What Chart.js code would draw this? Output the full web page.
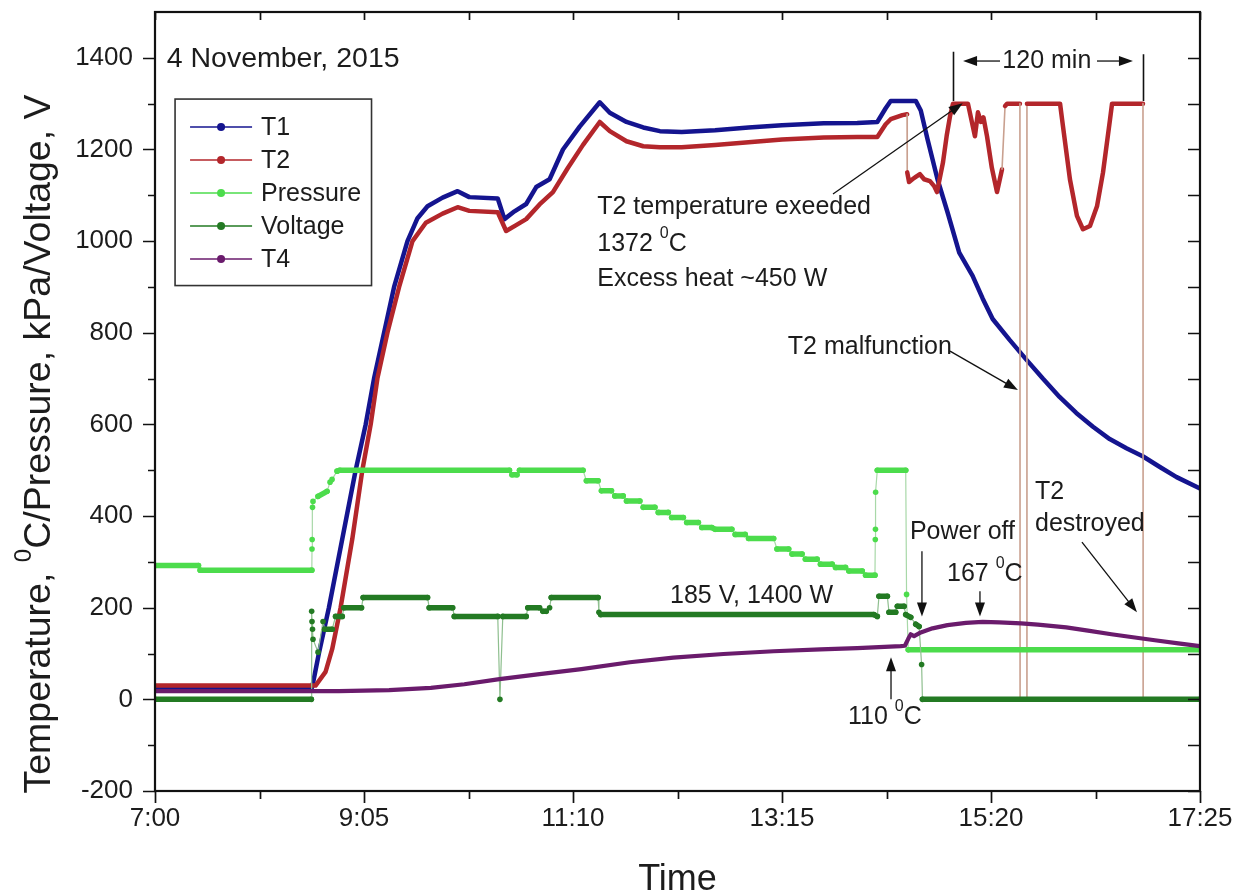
<!DOCTYPE html>
<html>
<head>
<meta charset="utf-8">
<script src="https://cdn.jsdelivr.net/npm/chart.js@4.4.1/dist/chart.umd.min.js"></script>
<style>html,body{margin:0;padding:0;background:#fff;}canvas{display:block;}</style>
</head>
<body>
<canvas id="c" width="1250" height="896"></canvas>
<script>
// ---- axis ticks (minutes after 7:00) ----
const tickMinutes = [0, 125, 250, 375, 500, 625];
const tickLabels = ["7:00", "9:05", "11:10", "13:15", "15:20", "17:25"];
const yTickValues = [-200, 0, 200, 400, 600, 800, 1000, 1200, 1400];

// ---- series (time in minutes after 7:00) ----
const seriesNames = ["T1", "T2", "Pressure", "Voltage", "T4"];

const t1Time = [0, 94, 98, 104, 112, 120, 126, 131, 137, 143, 151, 157, 163, 172, 181, 188, 205, 209, 215, 222, 228, 236, 244, 254, 266, 272, 282, 292, 302, 315, 335, 355, 375, 400, 420, 432, 437, 440, 455, 458, 462, 468, 474, 481, 489, 495, 501, 511, 521, 531, 541, 551, 561, 571, 581, 591, 601, 611, 625];
const t1Vals = [26, 26, 100, 200, 350, 500, 600, 700, 800, 900, 1000, 1050, 1076, 1095, 1109, 1096, 1093, 1048, 1065, 1081, 1118, 1135, 1200, 1250, 1303, 1280, 1260, 1248, 1240, 1238, 1242, 1248, 1253, 1257, 1258, 1260, 1290, 1306, 1306, 1285, 1223, 1135, 1063, 975, 924, 875, 830, 785, 742, 700, 660, 625, 595, 568, 548, 530, 507, 485, 460];

const t2Time = [0, 96, 102, 106, 111, 118, 124, 129, 133, 139, 146, 154, 162, 172, 181, 188, 205, 210, 216, 222, 230, 238, 247, 256, 266, 272, 282, 292, 302, 315, 335, 355, 375, 400, 420, 432, 437, 440, 447, 449.8, 449.9, 451, 453, 455, 457.5, 460, 463.5, 466, 467.7, 471.3, 473.5, 475.5, 477.3, 486.2, 490.4, 492.2, 494, 495.5, 497.6, 500.5, 503.6, 506.6, 508.4, 509.6, 517.3, 517.4, 521.4, 521.5, 541.3, 542.5, 547.2, 551.4, 555, 559.2, 563.4, 567, 571.2, 572.4, 590.9, 591, 625];
const t2Vals = [30, 30, 60, 110, 200, 350, 500, 600, 700, 800, 900, 1000, 1040, 1060, 1074, 1066, 1063, 1022, 1035, 1048, 1080, 1107, 1160, 1210, 1260, 1240, 1218, 1207, 1205, 1205, 1210, 1216, 1222, 1226, 1227, 1227, 1255, 1266, 1275, 1277, 1150, 1129, 1135, 1140, 1146, 1135, 1131, 1120, 1107, 1172, 1230, 1273, 1300, 1300, 1229, 1281, 1260, 1270, 1229, 1160, 1107, 1157, 1295, 1300, 1300, 0, 0, 1300, 1300, 1266, 1135, 1055, 1026, 1033, 1076, 1150, 1266, 1300, 1300, 0, 0];

const pTime = [0, 26, 27, 93.8, 93.9, 94.0, 94.2, 94.5, 97.5, 102.9, 104.7, 105.9, 108.9, 110.6, 212, 213.5, 216.5, 218, 256, 258, 265, 267, 273, 275, 280, 282, 290, 292, 299, 301, 307, 309, 316, 318, 325, 327, 333, 335, 345, 347, 353, 355, 370, 372, 379, 381, 387, 389, 396, 398, 405, 407, 413, 415, 423, 425, 430.6, 430.8, 430.9, 431, 432, 449, 449.5, 450.5, 625];
const pVals = [292, 292, 282, 282, 328, 349, 419, 432, 443, 454, 474, 480, 498, 500, 500, 490, 490, 500, 500, 477, 477, 455, 455, 444, 444, 433, 433, 419, 419, 408, 408, 397, 397, 386, 386, 375, 375, 371, 371, 360, 360, 351, 351, 328, 328, 317, 317, 306, 306, 295, 295, 288, 288, 280, 280, 271, 271, 349, 371, 452, 500, 500, 229, 108, 108];

const vTime = [0, 93.5, 93.7, 93.9, 94.2, 94.5, 97.5, 100.5, 101.5, 106, 108, 112, 113, 123.5, 124.5, 163, 164, 178, 179, 205, 206.3, 208, 222, 223, 230, 232, 234, 236, 237, 265, 265.5, 266.5, 430, 432, 433, 438, 439, 443, 444, 448, 449, 452, 455, 457, 458.5, 459, 625];
const vVals = [0, 0, 192, 170, 153, 131, 103, 170, 153, 153, 181, 181, 200, 200, 222, 222, 200, 200, 181, 181, 0, 181, 181, 200, 200, 192, 192, 200, 222, 222, 190, 185, 185, 181, 225, 225, 190, 190, 203, 203, 185, 179, 164, 159, 76, 0, 0];

const t4Time = [0, 110, 140, 165, 185, 206, 230, 255, 284, 310, 340, 370, 398, 420, 446, 448.5, 450.5, 452, 454, 458, 465, 474, 485, 495, 505, 518, 528, 545, 558, 572, 586, 598, 612, 625];
const t4Vals = [18, 18, 20, 25, 33, 44, 55, 66, 81, 91, 99, 105, 109, 112, 116, 117, 132, 142, 138, 146, 155, 162, 167, 169, 168, 166, 163, 157, 150, 142, 135, 129, 122, 116];

// ---- styles ----
const FONT = "'Liberation Sans', Arial, Helvetica, sans-serif";
const TXT = '#1c1c1c';
const colors = { T1: '#14148f', T2: '#b3262b', Pressure: '#4cdc4c', Voltage: '#237a23', T4: '#6a1b6c' };
const thinColors = { T2: '#c9a08f', Pressure: '#a8d8a8', Voltage: '#8fbf8f' };

const pts = (ts, vs) => ts.map((t, i) => ({ x: t, y: vs[i] }));
const slope = c => Math.abs(c.p1.parsed.y - c.p0.parsed.y) / Math.max(Math.abs(c.p1.parsed.x - c.p0.parsed.x), 0.001);

const datasets = [
  { label: 'T1', data: pts(t1Time, t1Vals), borderColor: colors.T1, backgroundColor: colors.T1, borderWidth: 4.5, pointRadius: 0, order: 5 },
  { label: 'T2', data: pts(t2Time, t2Vals), borderColor: colors.T2, backgroundColor: colors.T2, borderWidth: 4.5, pointRadius: 0, order: 4,
    segment: { borderWidth: c => slope(c) > 60 ? 1.6 : 4.5, borderColor: c => slope(c) > 60 ? thinColors.T2 : colors.T2 } },
  { label: 'Pressure', data: pts(pTime, pVals), borderColor: colors.Pressure, backgroundColor: colors.Pressure, borderWidth: 5, pointRadius: 2.8, pointBorderWidth: 0, pointBackgroundColor: colors.Pressure, order: 3,
    segment: { borderWidth: c => slope(c) > 3 ? 1.2 : 5.5, borderColor: c => slope(c) > 3 ? thinColors.Pressure : colors.Pressure } },
  { label: 'Voltage', data: pts(vTime, vVals), borderColor: colors.Voltage, backgroundColor: colors.Voltage, borderWidth: 5, pointRadius: 2.8, pointBorderWidth: 0, pointBackgroundColor: colors.Voltage, order: 2,
    segment: { borderWidth: c => slope(c) > 3 ? 1.2 : 5.5, borderColor: c => slope(c) > 3 ? thinColors.Voltage : colors.Voltage } },
  { label: 'T4', data: pts(t4Time, t4Vals), borderColor: colors.T4, backgroundColor: colors.T4, borderWidth: 4.2, pointRadius: 0, order: 1 }
];

// ---- drawing helpers ----
function richWidth(ctx, parts, size) {
  let w = 0;
  for (const p of parts) {
    ctx.font = (p.sup ? Math.round(size * 0.64) : size) + 'px ' + FONT;
    w += ctx.measureText(p.t).width;
  }
  return w;
}
function richText(ctx, parts, x, y, size) {
  ctx.textBaseline = 'middle';
  ctx.textAlign = 'left';
  let cx = x;
  for (const p of parts) {
    const s = p.sup ? Math.round(size * 0.64) : size;
    ctx.font = s + 'px ' + FONT;
    ctx.fillText(p.t, cx, p.sup ? y - size * 0.42 : y);
    cx += ctx.measureText(p.t).width;
  }
}
function arrow(ctx, x1, y1, x2, y2) {
  const ang = Math.atan2(y2 - y1, x2 - x1);
  const L = 14, W = 5;
  ctx.beginPath();
  ctx.moveTo(x1, y1);
  ctx.lineTo(x2 - Math.cos(ang) * (L - 2), y2 - Math.sin(ang) * (L - 2));
  ctx.stroke();
  ctx.beginPath();
  ctx.moveTo(x2, y2);
  ctx.lineTo(x2 - Math.cos(ang) * L - Math.sin(ang) * W, y2 - Math.sin(ang) * L + Math.cos(ang) * W);
  ctx.lineTo(x2 - Math.cos(ang) * L + Math.sin(ang) * W, y2 - Math.sin(ang) * L - Math.cos(ang) * W);
  ctx.closePath();
  ctx.fill();
}

// annotations in data coordinates (minutes, value)
const notes = [
  { parts: [{ t: '4 November, 2015' }], at: [7, 1398], size: 28.5 },
  { parts: [{ t: 'T2 temperature exeeded' }], at: [264.5, 1074] },
  { parts: [{ t: '1372 ' }, { t: '0', sup: true }, { t: 'C' }], at: [264.5, 993] },
  { parts: [{ t: 'Excess heat ~450 W' }], at: [264.5, 917] },
  { parts: [{ t: 'T2 malfunction' }], at: [378.5, 769] },
  { parts: [{ t: '185 V, 1400 W' }], at: [308, 225] },
  { parts: [{ t: 'Power off' }], at: [451.5, 365] },
  { parts: [{ t: '167 ' }, { t: '0', sup: true }, { t: 'C' }], at: [473.7, 273] },
  { parts: [{ t: '110 ' }, { t: '0', sup: true }, { t: 'C' }], at: [414.5, -39] },
  { parts: [{ t: 'T2' }], at: [526.3, 452] },
  { parts: [{ t: 'destroyed' }], at: [526.3, 382] },
  { parts: [{ t: '120 min' }], at: [506.8, 1393] }
];
const arrows = [
  [405.5, 1103, 483.1, 1301],
  [475.5, 760, 516.1, 675],
  [458.7, 323, 458.7, 181],
  [493.4, 236, 493.4, 181],
  [440.2, 0, 440.2, 92],
  [554.4, 343, 587.3, 190],
  [505.4, 1393, 483.3, 1393],
  [563.4, 1393, 584.9, 1393]
];
const brackets = [[477.3, 1413, 1306], [590.9, 1408, 1306]];

const deco = {
  id: 'deco',
  afterDraw(chart) {
    const { ctx, chartArea: a, scales: { x, y } } = chart;
    const X = v => x.getPixelForValue(v), Y = v => y.getPixelForValue(v);
    ctx.save();
    // ticks
    ctx.strokeStyle = '#111';
    ctx.lineWidth = 1.7;
    ctx.beginPath();
    for (let v = -200; v <= 1400; v += 100) {
      const py = Math.round(Y(v)) + 0.5;
      const major = v % 200 === 0;
      ctx.moveTo(a.left - (major ? 12 : 7), py); ctx.lineTo(a.left, py);
      ctx.moveTo(a.right - 12, py); ctx.lineTo(a.right, py);
    }
    for (let m = 0; m <= 625; m += 62.5) {
      const px = Math.round(X(m)) + 0.5;
      const major = m % 125 === 0;
      ctx.moveTo(px, a.bottom); ctx.lineTo(px, a.bottom + (major ? 12 : 8));
      ctx.moveTo(px, a.top); ctx.lineTo(px, a.top + 8);
    }
    ctx.stroke();
    // frame
    ctx.lineWidth = 2.2;
    ctx.strokeRect(a.left, a.top, a.right - a.left, a.bottom - a.top);

    // legend
    const lx0 = X(12), lx1 = X(129.5), ly0 = Y(1310), ly1 = Y(903);
    ctx.lineWidth = 1.6;
    ctx.strokeStyle = '#333';
    ctx.strokeRect(lx0, ly0, lx1 - lx0, ly1 - ly0);
    seriesNames.forEach((name, i) => {
      const yy = ly0 + 28 + i * 33;
      ctx.strokeStyle = colors[name];
      ctx.fillStyle = colors[name];
      ctx.lineWidth = 1.5;
      ctx.beginPath(); ctx.moveTo(lx0 + 15, yy); ctx.lineTo(lx0 + 77, yy); ctx.stroke();
      ctx.beginPath(); ctx.arc(lx0 + 46, yy, 4, 0, Math.PI * 2); ctx.fill();
      ctx.fillStyle = TXT;
      ctx.font = '25px ' + FONT;
      ctx.textBaseline = 'middle'; ctx.textAlign = 'left';
      ctx.fillText(name, lx0 + 86, yy + 1);
    });

    // annotations
    ctx.fillStyle = TXT;
    notes.forEach(n => richText(ctx, n.parts, X(n.at[0]), Y(n.at[1]), n.size || 25));
    ctx.strokeStyle = '#111'; ctx.fillStyle = '#111'; ctx.lineWidth = 1.3;
    arrows.forEach(r => arrow(ctx, X(r[0]), Y(r[1]), X(r[2]), Y(r[3])));
    ctx.lineWidth = 1.6;
    ctx.beginPath();
    brackets.forEach(b => { ctx.moveTo(Math.round(X(b[0])) + 0.5, Y(b[1])); ctx.lineTo(Math.round(X(b[0])) + 0.5, Y(b[2])); });
    ctx.stroke();

    // axis titles
    ctx.fillStyle = TXT;
    ctx.font = '36px ' + FONT;
    ctx.textAlign = 'center'; ctx.textBaseline = 'middle';
    ctx.fillText('Time', (a.left + a.right) / 2, 880);
    const yt = [{ t: 'Temperature, ' }, { t: '0', sup: true }, { t: 'C/Pressure, kPa/Voltage, V' }];
    ctx.save();
    ctx.translate(40, 444);
    ctx.rotate(-Math.PI / 2);
    const w = richWidth(ctx, yt, 37.5);
    richText(ctx, yt, -w / 2, 0, 37.5);
    ctx.restore();
    ctx.restore();
  }
};

new Chart(document.getElementById('c'), {
  type: 'line',
  data: { datasets },
  options: {
    responsive: false,
    animation: false,
    layout: { padding: { left: 0, right: 50, top: 12, bottom: 0 } },
    plugins: { legend: { display: false }, tooltip: { enabled: false } },
    elements: { line: { tension: 0, borderJoinStyle: 'round', borderCapStyle: 'round' } },
    scales: {
      x: {
        type: 'linear', min: 0, max: 625,
        grid: { display: false, drawTicks: false }, border: { display: false },
        afterBuildTicks: s => { s.ticks = tickMinutes.map(v => ({ value: v })); },
        afterFit: s => { s.height = 105; s.paddingLeft = 0; s.paddingRight = 0; },
        ticks: {
          autoSkip: false, maxRotation: 0, padding: 12, color: TXT,
          font: { family: FONT, size: 26 },
          callback: v => tickLabels[tickMinutes.indexOf(v)]
        }
      },
      y: {
        type: 'linear', min: -200, max: 1500,
        grid: { display: false, drawTicks: false }, border: { display: false },
        afterBuildTicks: s => { s.ticks = yTickValues.map(v => ({ value: v })); },
        afterFit: s => { s.width = 155; s.paddingTop = 0; s.paddingBottom = 0; },
        ticks: { padding: 22, color: TXT, font: { family: FONT, size: 26 }, callback: v => String(v) }
      }
    }
  },
  plugins: [deco]
});
</script>
</body>
</html>
